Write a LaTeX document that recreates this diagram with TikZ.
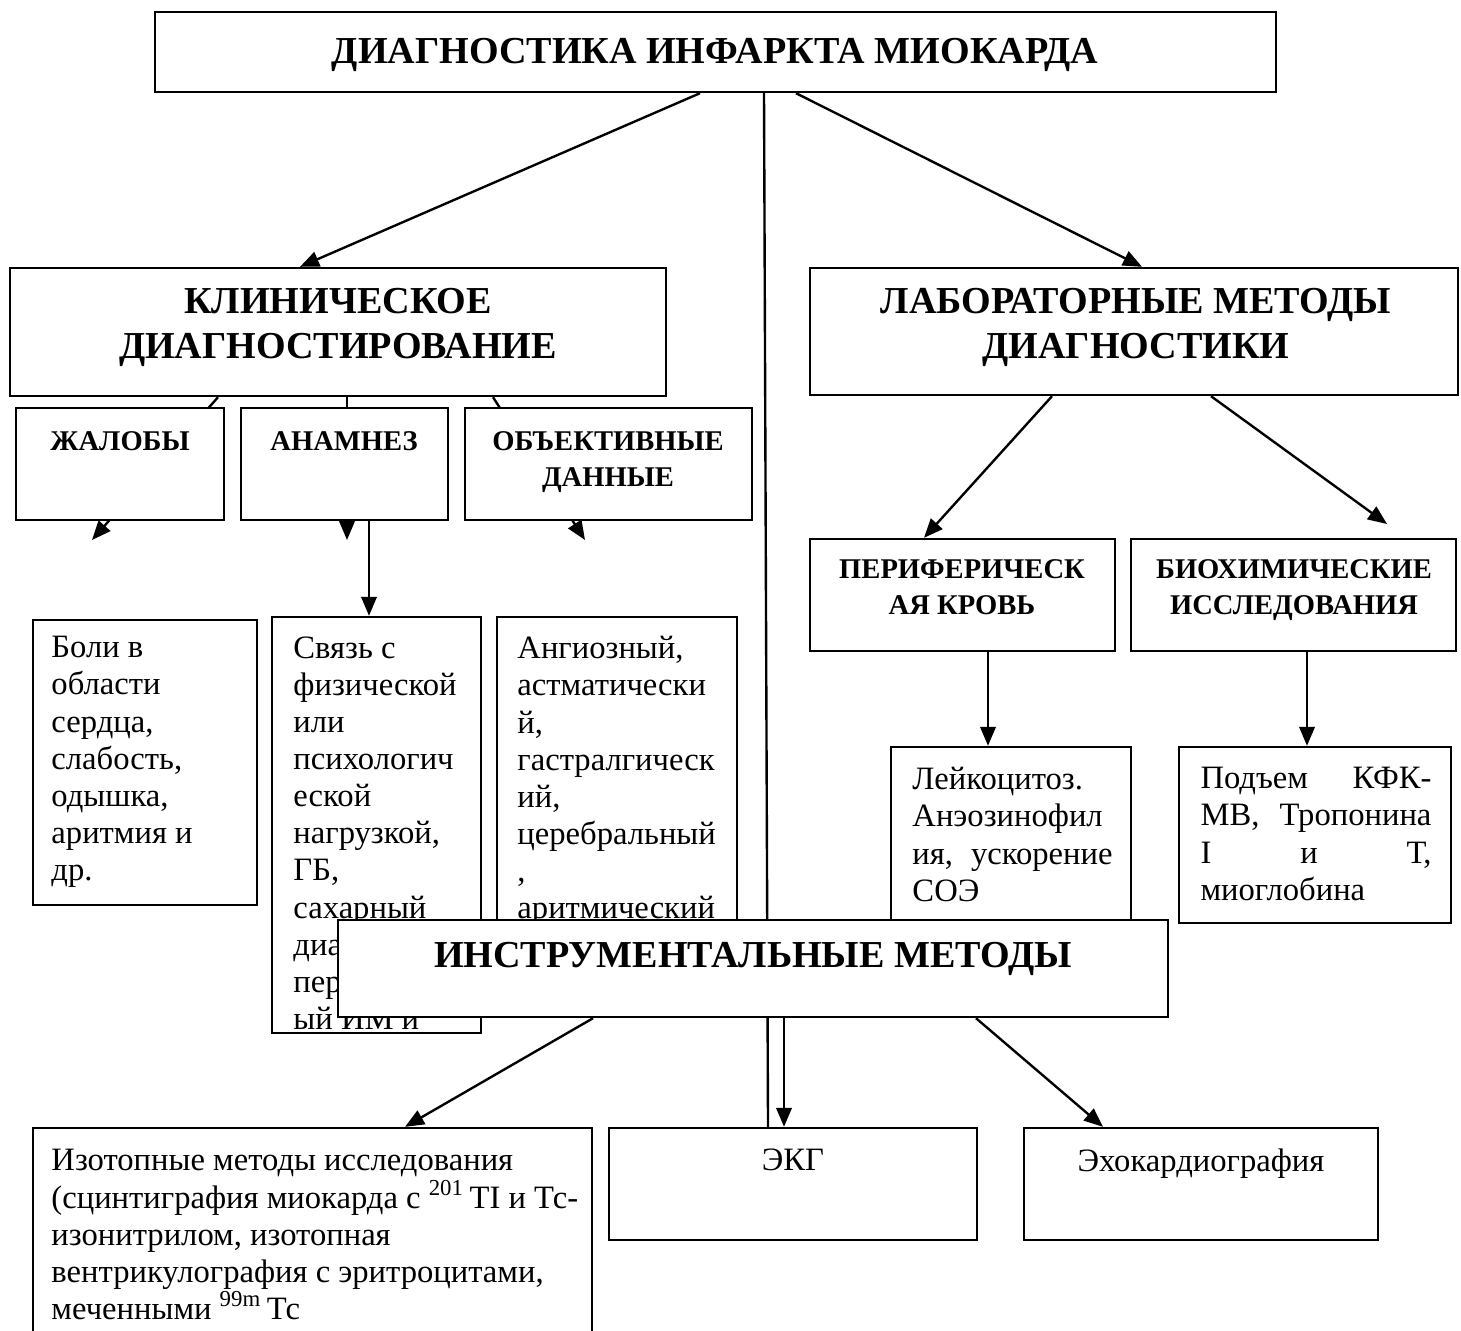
\documentclass[tikz,border=0pt]{standalone}
\usepackage{fontspec}
\setmainfont{Liberation Serif}
\usetikzlibrary{arrows.meta,fit}

\tikzset{
  box/.style={draw, line width=1pt, fill=white, inner sep=0pt},
  conn/.style={line width=1pt},
  arr/.style={conn, -{Triangle[length=8pt,width=6.5pt]}},
  headtext/.style={font=\bfseries\fontsize{16}{19}\selectfont, align=center, inner sep=0pt, anchor=north},
  subtext/.style={font=\bfseries\fontsize{12}{15}\selectfont, align=center, inner sep=0pt, anchor=north},
  bodytext/.style={font=\fontsize{13.7}{15.6}\selectfont, align=left, inner sep=0pt, anchor=north west},
}

\begin{document}
\begin{tikzpicture}[x=0.42pt, y=-0.42pt]
\useasboundingbox (0,0) rectangle (1461,1330);

% top level
\node[box, fit={(155,12) (1276,92)}] (diag) {};
\node[headtext] (diagT) at (715,38) {ДИАГНОСТИКА ИНФАРКТА МИОКАРДА};

\node[box, fit={(10,268) (666,396)}] (klin) {};
\node[headtext] (klinT) at (338,288) {КЛИНИЧЕСКОЕ\\ДИАГНОСТИРОВАНИЕ};
\node[box, fit={(810,268) (1458,395)}] (lab) {};
\node[headtext] (labT) at (1136,288) {ЛАБОРАТОРНЫЕ МЕТОДЫ\\ДИАГНОСТИКИ};

\draw[arr] (diag.south -| 700,0) -- (klin.north -| 300,0);
\draw[arr] (diag.south -| 796,0) -- (lab.north -| 1142,0);

% clinical branch
\coordinate (zhEnd) at (92,540);
\coordinate (anEnd) at (347,540);
\coordinate (obEnd) at (585,540);
\draw[arr] (klin.south -| 218,0) -- (zhEnd);
\draw[arr] (klin.south -| 347,0) -- (anEnd);
\draw[arr] (klin.south -| 493,0) -- (obEnd);

\node[box, fit={(16,408) (224,520)}] (zhal) {};
\node[subtext] (zhalT) at (120,431) {ЖАЛОБЫ};
\node[box, fit={(241,408) (448,520)}] (anam) {};
\node[subtext] (anamT) at (344,431) {АНАМНЕЗ};
\node[box, fit={(465,408) (752,520)}] (obj) {};
\node[subtext] (objT) at (608,431) {ОБЪЕКТИВНЫЕ\\ДАННЫЕ};

\node[box, fit={(33,620) (257,905)}] (boli) {};
\node[bodytext] (boliT) at (51,636) {Боли в\\области\\сердца,\\слабость,\\одышка,\\аритмия и\\др.};

\node[box, fit={(272,617) (481,1033)}] (svyaz) {};
\begin{scope}
  \clip (272,617) rectangle (481,1033);
  \node[bodytext] (svyazT) at (293,636) {Связь с\\физической\\или\\психологич\\еской\\нагрузкой,\\ГБ,\\сахарный\\диа\\пер\\ый ИМ и};
\end{scope}
\draw[arr] (anam.south -| 369,0) -- (svyaz.north -| 369,0);

\node[box, fit={(497,617) (737,1000)}] (angio) {};
\node[bodytext] (angioT) at (517,636) {Ангиозный,\\астматически\\й,\\гастралгическ\\ий,\\церебральный\\,\\аритмический};

% laboratory branch
\node[box, fit={(810,539) (1115,651)}] (perif) {};
\node[subtext] (perifT) at (962,559) {ПЕРИФЕРИЧЕСК\\АЯ КРОВЬ};
\node[box, fit={(1131,539) (1456,651)}] (bioch) {};
\node[subtext] (biochT) at (1294,559) {БИОХИМИЧЕСКИЕ\\ИССЛЕДОВАНИЯ};
\coordinate (biEnd) at (1387,524);
\draw[arr] (lab.south -| 1052,0) -- (perif.north -| 924,0);
\draw[arr] (lab.south -| 1211,0) -- (biEnd);

\node[box, fit={(891,747) (1131,1000)}] (leyk) {};
\node[bodytext, text width=84pt] (leykT) at (912,767) {Лейкоцитоз.\\Анэозинофил\\ия,\hfill ускорение\\СОЭ};
\node[box, fit={(1179,747) (1451,923)}] (podem) {};
\node[bodytext, text width=97pt] (podemT) at (1200,767) {Подъем\hfill КФК-\\МВ,\hfill Тропонина\\I\hfill и\hfill Т,\\миоглобина};
\draw[arr] (perif.south -| 988,0) -- (leyk.north -| 988,0);
\draw[arr] (bioch.south -| 1307,0) -- (podem.north -| 1307,0);

% instrumental branch
\node[box, fit={(33,1128) (592,1345)}] (isot) {};
\node[bodytext] (isotT) at (51,1149) {Изотопные методы исследования\\(сцинтиграфия миокарда с \textsuperscript{201}\,TI и Тс-\\изонитрилом, изотопная\\вентрикулография с эритроцитами,\\меченными \textsuperscript{99m}\,Тс};
\node[box, fit={(609,1128) (977,1240)}] (ekg) {};
\node[bodytext, anchor=north] (ekgT) at (793,1148) {ЭКГ};
\node[box, fit={(1024,1128) (1378,1240)}] (echo) {};
\node[bodytext, anchor=north] (echoT) at (1201,1148) {Эхокардиография};

\draw[conn] (diag.south -| 764,0) -- (ekg.north -| 768,0);

\node[box, fit={(338,920) (1168,1017)}] (instr) {};
\node[headtext] (instrT) at (753,942) {ИНСТРУМЕНТАЛЬНЫЕ МЕТОДЫ};

\draw[arr] (instr.south -| 593,0) -- (isot.north -| 405,0);
\draw[arr] (instr.south -| 784,0) -- (ekg.north -| 784,0);
\draw[arr] (instr.south -| 976,0) -- (echo.north -| 1103,0);
\end{tikzpicture}
\end{document}
